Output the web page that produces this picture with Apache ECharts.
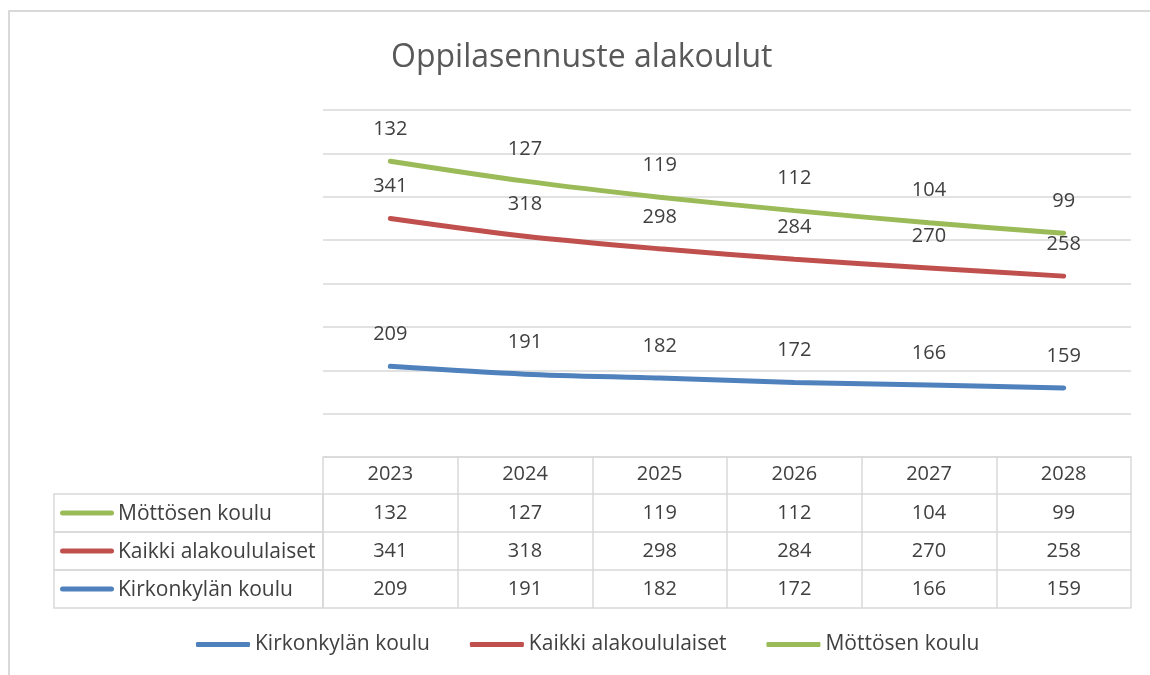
<!DOCTYPE html>
<html>
<head>
<meta charset="utf-8">
<script src="https://cdn.jsdelivr.net/npm/echarts@6/dist/echarts.min.js"></script>
<style>
  html, body { margin: 0; padding: 0; background: #fff; }
  #frame { position: absolute; left: 8px; top: 10px; width: 1160px; height: 680px;
           border-left: 2px solid #d9d9d9; border-top: 2px solid #d9d9d9; box-sizing: border-box; }
  #chart { position: absolute; left: 0; top: 0; width: 1150px; height: 675px; }
</style>
</head>
<body>
<div id="frame"></div>
<div id="chart"></div>
<script>
const years = ['2023', '2024', '2025', '2026', '2027', '2028']
const kirkonkyla = [209, 191, 182, 172, 166, 159]
const kaikki = [341, 318, 298, 284, 270, 258]
const mottonen = [132, 127, 119, 112, 104, 99]

const seriesNames = ['Kirkonkylän koulu', 'Kaikki alakoululaiset', 'Möttösen koulu']
const colors = ['#4f81bd', '#c0504d', '#9bbb59']

const font = 'Open Sans'
const textColor = '#404040'
const border = '#d9d9d9'

// left cell of a table row: coloured line + series name, boxed
function rowName(name, color) {
  return {
    name: '{line|}{txt|' + name + '}',
    nameLocation: 'start',
    nameGap: 0,
    nameTruncate: { maxWidth: 263 },
    nameTextStyle: {
      align: 'right',
      verticalAlign: 'top',
      width: 263,
      height: 38,
      padding: [0, 0, 0, 6],
      borderColor: border,
      borderWidth: 1.5,
      rich: {
        line: { width: 54, height: 5, backgroundColor: color, borderRadius: 3, align: 'left' },
        txt: { fontFamily: font, fontSize: 21, color: textColor, padding: [2, 0, 0, 4], align: 'left', lineHeight: 38 }
      }
    }
  }
}

function tableAxis(values, offset, length, margin, extra) {
  return Object.assign({
    type: 'category',
    gridIndex: 0,
    position: 'bottom',
    offset: offset,
    data: values.map(String),
    boundaryGap: true,
    axisLine: { show: true, lineStyle: { color: border, width: 1.5 } },
    axisTick: { show: length > 0, interval: 0, length: length, lineStyle: { color: border, width: 1.5 } },
    axisLabel: { show: length > 0, interval: 0, margin: margin, fontFamily: font, fontSize: 20, color: textColor },
    splitLine: { show: false }
  }, extra || {})
}

const chart = echarts.init(document.getElementById('chart'))

chart.setOption({
  animation: false,
  color: colors,
  title: {
    text: 'Oppilasennuste alakoulut',
    left: 386,
    top: 37,
    textStyle: { fontFamily: font, fontSize: 32, fontWeight: 'normal', color: '#595959' }
  },
  grid: { left: 323, right: 19, top: 110, bottom: 218 },
  legend: {
    left: 191,
    top: 629,
    icon: 'roundRect',
    itemWidth: 54,
    itemHeight: 5,
    itemGap: 40,
    data: seriesNames,
    textStyle: { fontFamily: font, fontSize: 21, color: textColor }
  },
  xAxis: [
    tableAxis(years, 0, 37, 7),
    tableAxis(mottonen, 37, 38, 9, rowName(seriesNames[2], colors[2])),
    tableAxis(kaikki, 75, 38, 9, rowName(seriesNames[1], colors[1])),
    tableAxis(kirkonkyla, 113, 38, 9, rowName(seriesNames[0], colors[0])),
    tableAxis(years, 151, 0, 0)
  ],
  yAxis: {
    type: 'value',
    min: 0,
    max: 800,
    interval: 100,
    axisLabel: { show: false },
    axisLine: { show: false },
    axisTick: { show: false },
    splitLine: { lineStyle: { color: border, width: 1.5 } }
  },
  series: [
    { name: seriesNames[0], data: kirkonkyla },
    { name: seriesNames[1], data: kaikki },
    { name: seriesNames[2], data: mottonen }
  ].map((s, i) => ({
    name: s.name,
    type: 'line',
    stack: 'total',
    smooth: 0.3,
    symbol: 'circle',
    symbolSize: 2,
    showSymbol: true,
    data: s.data,
    itemStyle: { color: colors[i] },
    lineStyle: { width: 5, color: colors[i], cap: 'round' },
    label: {
      show: true,
      position: 'top',
      distance: 21,
      fontFamily: font,
      fontSize: 20,
      color: textColor
    }
  }))
})
</script>
</body>
</html>
